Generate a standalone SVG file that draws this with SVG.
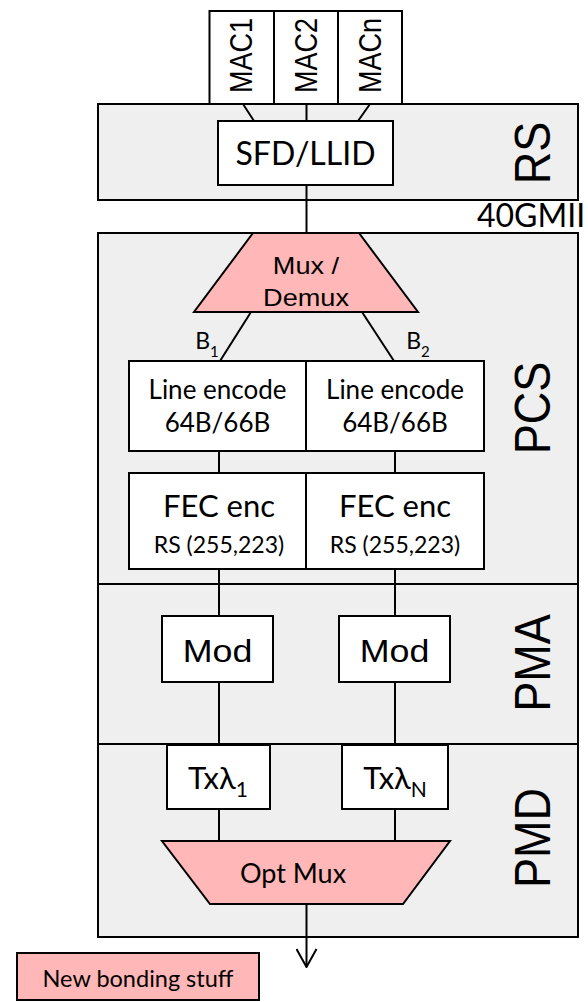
<svg xmlns="http://www.w3.org/2000/svg" width="588" height="1002" viewBox="0 0 588 1002">
<defs>
<style>
.band{fill:#EFEFEF;stroke:#000;stroke-width:2}
.box{fill:#FFF;stroke:#000;stroke-width:2}
.pink{fill:#FFB7B7;stroke:#000;stroke-width:2}
.ln{stroke:#000;stroke-width:2;fill:none}
.c{font-family:Lato,"Open Sans",sans-serif;fill:#000;text-anchor:middle}
.a{font-family:"Liberation Sans",Arial,sans-serif;fill:#000;text-anchor:middle}
.sec{font-family:"Liberation Sans",Arial,sans-serif;fill:#000;text-anchor:middle;font-size:45px}
</style>
<marker id="arr" viewBox="0 0 20 22" refX="19" refY="11" markerWidth="20" markerHeight="22" markerUnits="userSpaceOnUse" orient="auto">
<path d="M1,1 L19,11 L1,21" fill="none" stroke="#000" stroke-width="2"/>
</marker>
</defs>
<rect width="588" height="1002" fill="#FFF"/>

<g id="layers">
<g id="rs-layer"><rect class="band" x="98" y="104" width="480" height="96"/>
<text class="sec" transform="matrix(0 -1 1.13 0 550 153)">RS</text></g>
<g id="pcs-layer"><rect class="band" x="98" y="233" width="480" height="351"/>
<text class="sec" transform="matrix(0 -1 1.13 0 550 408)">PCS</text></g>
<g id="pma-layer"><rect class="band" x="98" y="584" width="480" height="160"/>
<text class="sec" transform="matrix(0 -1 1.13 0 550 663)">PMA</text></g>
<g id="pmd-layer"><rect class="band" x="98" y="744" width="480" height="193"/>
<text class="sec" transform="matrix(0 -1 1.13 0 550 838)">PMD</text></g>
</g>

<g id="connectors">
<line class="ln" x1="243" y1="104" x2="254" y2="121"/>
<line class="ln" x1="306.5" y1="104" x2="306.5" y2="121"/>
<line class="ln" x1="370" y1="104" x2="358" y2="121"/>
<line class="ln" x1="306.5" y1="185" x2="306.5" y2="233"/>
<line class="ln" x1="251" y1="312" x2="220" y2="361"/>
<line class="ln" x1="362" y1="312" x2="394" y2="361"/>
<line class="ln" x1="219" y1="451" x2="219" y2="473"/>
<line class="ln" x1="395" y1="451" x2="395" y2="473"/>
<line class="ln" x1="219" y1="569" x2="219" y2="616"/>
<line class="ln" x1="395" y1="569" x2="395" y2="616"/>
<line class="ln" x1="219" y1="682" x2="219" y2="745"/>
<line class="ln" x1="395" y1="682" x2="395" y2="745"/>
<line class="ln" x1="219" y1="809" x2="219" y2="841"/>
<line class="ln" x1="395" y1="809" x2="395" y2="841"/>
<line class="ln" x1="306.5" y1="904" x2="306.5" y2="967" marker-end="url(#arr)"/>
<text class="c" x="207" y="349" font-size="23">B<tspan font-size="15" dy="8">1</tspan></text>
<text class="c" x="418" y="349" font-size="23">B<tspan font-size="15" dy="8">2</tspan></text>
<text class="c" x="477" y="227" font-size="32" style="text-anchor:start">40GMII</text>
</g>

<g id="mac1"><rect class="box" x="209.5" y="11" width="64.5" height="93"/>
<text class="a" font-size="27" transform="matrix(0 -1 1.13 0 252 55.5)">MAC1</text></g>
<g id="mac2"><rect class="box" x="274" y="11" width="64" height="93"/>
<text class="a" font-size="27" transform="matrix(0 -1 1.13 0 317 55.5)">MAC2</text></g>
<g id="macn"><rect class="box" x="338" y="11" width="64" height="93"/>
<text class="a" font-size="27" transform="matrix(0 -1 1.13 0 381 55.5)">MACn</text></g>

<g id="sfd"><rect class="box" x="218" y="121" width="175" height="64"/>
<text class="c" x="305.5" y="165" font-size="32">SFD/LLID</text></g>

<g id="mux"><polygon class="pink" points="253,233 359,233 418,312 194,312"/>
<text class="a" font-size="24" transform="matrix(1.13 0 0 1 306 274)">Mux /</text>
<text class="a" font-size="24" transform="matrix(1.13 0 0 1 306 306)">Demux</text></g>

<g id="enc1"><rect class="box" x="129" y="361" width="177" height="90"/>
<text class="c" x="217.5" y="399" font-size="26">Line encode</text>
<text class="c" x="217.5" y="432" font-size="26">64B/66B</text></g>
<g id="enc2"><rect class="box" x="306" y="361" width="178" height="90"/>
<text class="c" x="395" y="399" font-size="26">Line encode</text>
<text class="c" x="395" y="432" font-size="26">64B/66B</text></g>

<g id="fec1"><rect class="box" x="129" y="473" width="177" height="96"/>
<text class="c" x="219" y="517" font-size="31">FEC enc</text>
<text class="c" x="219" y="553" font-size="23">RS (255,223)</text></g>
<g id="fec2"><rect class="box" x="306" y="473" width="178" height="96"/>
<text class="c" x="395" y="517" font-size="31">FEC enc</text>
<text class="c" x="395" y="553" font-size="23">RS (255,223)</text></g>

<g id="mod1"><rect class="box" x="162" y="616" width="111" height="66"/>
<text class="a" font-size="32" transform="matrix(1.12 0 0 1 217.5 662)">Mod</text></g>
<g id="mod2"><rect class="box" x="339" y="616" width="111" height="66"/>
<text class="a" font-size="32" transform="matrix(1.12 0 0 1 394.5 662)">Mod</text></g>

<g id="tx1"><rect class="box" x="167" y="745" width="103" height="64"/>
<text class="c" x="218" y="789" font-size="31">Txλ<tspan font-size="21" dy="8">1</tspan></text></g>
<g id="txn"><rect class="box" x="342" y="745" width="106" height="64"/>
<text class="c" x="395" y="789" font-size="31">Txλ<tspan font-size="21" dy="8">N</tspan></text></g>

<g id="optmux"><polygon class="pink" points="162,841 450,841 403,904 210,904"/>
<text class="c" x="293" y="883" font-size="27">Opt Mux</text></g>

<g id="legend"><rect class="pink" x="17" y="953" width="242" height="47"/>
<text class="c" x="138" y="987" font-size="23.5">New bonding stuff</text></g>
</svg>
